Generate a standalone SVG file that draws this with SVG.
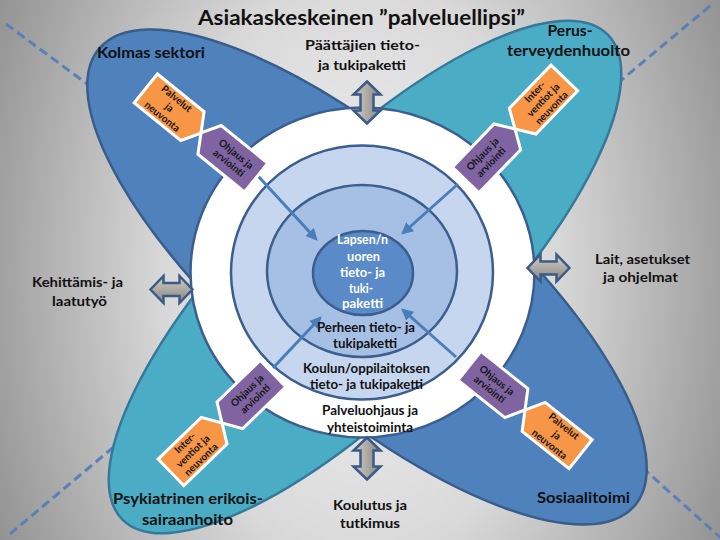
<svg xmlns="http://www.w3.org/2000/svg" width="720" height="540" viewBox="0 0 720 540">
<defs>
<radialGradient id="bg" cx="360" cy="270" r="430" gradientUnits="userSpaceOnUse" gradientTransform="translate(360 270) scale(1 1.5) translate(-360 -270)">
<stop offset="0" stop-color="#f2f2f2"/>
<stop offset="0.45" stop-color="#d9d9d9"/>
<stop offset="1" stop-color="#8a8a8a"/>
</radialGradient>
<linearGradient id="dg" x1="0" y1="0" x2="1" y2="0">
<stop offset="0" stop-color="#d6cfc2"/>
<stop offset="1" stop-color="#858585"/>
</linearGradient>
<path id="dbl" d="M0,-21 L13.5,-8 L6.5,-8 L6.5,8 L13.5,8 L0,21 L-13.5,8 L-6.5,8 L-6.5,-8 L-13.5,-8 Z"/>
<path id="penR" d="M-35.5,-18.5 L24.5,-18.5 L35.5,0 L24.5,18.5 L-35.5,18.5 Z"/>
<path id="penL" d="M35.5,-18.5 L-24.5,-18.5 L-35.5,0 L-24.5,18.5 L35.5,18.5 Z"/>
<marker id="ah" viewBox="0 0 10 10" refX="8" refY="5" markerWidth="4" markerHeight="4" orient="auto" markerUnits="strokeWidth">
<path d="M0,0 L10,5 L0,10 Z" fill="#4a7ebb"/>
</marker>
<style>
.lbl{font-family:Lato,'Liberation Sans',sans-serif;font-weight:700;fill:#111;text-anchor:middle}
.ctr{font-family:Lato,'Liberation Sans',sans-serif;font-weight:700;font-size:13px;text-anchor:middle}
.bx{font-family:Lato,'Liberation Sans',sans-serif;font-weight:700;font-size:10px;fill:#151515;text-anchor:middle}
.org{fill:#f79646;stroke:#fff;stroke-width:3}
.pur{fill:#8064a2;stroke:#fff;stroke-width:3}
.ring{stroke:#3b5e8e;stroke-width:2.5}
.dash{stroke:#5a80b6;stroke-width:3;stroke-dasharray:9 5;fill:none}
.dblarrow{fill:url(#dg);stroke:#3a5a87;stroke-width:2.5;stroke-linejoin:miter}
.conn{stroke:#4a7ebb;stroke-width:3;fill:none;marker-end:url(#ah)}
</style>
</defs>

<rect width="720" height="540" fill="url(#bg)"/>

<g id="dashed-lines">
<line class="dash" x1="6" y1="24" x2="98" y2="92"/>
<line class="dash" x1="710" y1="6" x2="612" y2="88"/>
<line class="dash" x1="10" y1="534" x2="122" y2="440"/>
<line class="dash" x1="722" y1="539" x2="636" y2="462"/>
</g>

<g id="lobe-blue">
<ellipse cx="367" cy="277" rx="352" ry="125" transform="rotate(40.5 367 277)" fill="#4f81bd" stroke="#385d8a" stroke-width="2.5"/>
</g>
<g id="lobe-teal">
<ellipse cx="365" cy="277" rx="343" ry="117" transform="rotate(-45 365 277)" fill="#4bacc6" stroke="#35789a" stroke-width="2.5"/>
</g>

<g id="rings">
<ellipse class="ring" cx="362.5" cy="272.5" rx="172" ry="165" fill="#ffffff"/>
<ellipse class="ring" cx="362" cy="272.5" rx="131" ry="127" fill="#c6d6ee"/>
<ellipse class="ring" cx="362" cy="271" rx="95" ry="86" fill="#a6bfe5"/>
<ellipse class="ring" cx="363" cy="273" rx="50" ry="42" fill="#5a8bc8"/>
</g>

<g id="connectors">
<line class="conn" x1="258" y1="176" x2="316" y2="239"/>
<line class="conn" x1="458" y1="184" x2="403" y2="233"/>
<line class="conn" x1="273" y1="368" x2="320" y2="318"/>
<line class="conn" x1="456" y1="357" x2="403" y2="310"/>
<use href="#dbl" class="dblarrow" transform="translate(367 102.5)"/>
<use href="#dbl" class="dblarrow" transform="translate(367 458.5)"/>
<use href="#dbl" class="dblarrow" transform="translate(171.5 289.5) rotate(90)"/>
<use href="#dbl" class="dblarrow" transform="translate(548.5 268) rotate(90)"/>
</g>

<g id="tl-orange" transform="translate(173.4 110.7) rotate(39)">
<use href="#penR" class="org"/>
<text class="bx" x="-5" y="-8">Palvelut</text>
<text class="bx" x="-5" y="3.5">ja</text>
<text class="bx" x="-5" y="15">neuvonta</text>
</g>
<g id="tl-purple" transform="translate(228.6 155.3) rotate(39)">
<use href="#penL" class="pur"/>
<text class="bx" x="5" y="-2.3">Ohjaus ja</text>
<text class="bx" x="5" y="9.2">arviointi</text>
</g>

<g id="tr-orange" transform="translate(539.7 103.5) rotate(-46)">
<use href="#penL" class="org"/>
<text class="bx" x="5" y="-8">Inter-</text>
<text class="bx" x="5" y="3.5">ventiot ja</text>
<text class="bx" x="5" y="15">neuvonta</text>
</g>
<g id="tr-purple" transform="translate(490.3 154.5) rotate(-46)">
<use href="#penR" class="pur"/>
<text class="bx" x="-5" y="-2.3">Ohjaus ja</text>
<text class="bx" x="-5" y="9.2">arviointi</text>
</g>

<g id="bl-orange" transform="translate(196.5 447.7) rotate(-44)">
<use href="#penR" class="org"/>
<text class="bx" x="-5" y="-8">Inter-</text>
<text class="bx" x="-5" y="3.5">ventiot ja</text>
<text class="bx" x="-5" y="15">neuvonta</text>
</g>
<g id="bl-purple" transform="translate(247.5 398.3) rotate(-44)">
<use href="#penL" class="pur"/>
<text class="bx" x="5" y="-2.3">Ohjaus ja</text>
<text class="bx" x="5" y="9.2">arviointi</text>
</g>

<g id="br-orange" transform="translate(552.8 432.1) rotate(38.5)">
<use href="#penL" class="org"/>
<text class="bx" x="5" y="-8">Palvelut</text>
<text class="bx" x="5" y="3.5">ja</text>
<text class="bx" x="5" y="15">neuvonta</text>
</g>
<g id="br-purple" transform="translate(497.2 387.9) rotate(38.5)">
<use href="#penR" class="pur"/>
<text class="bx" x="-5" y="-2.3">Ohjaus ja</text>
<text class="bx" x="-5" y="9.2">arviointi</text>
</g>

<g id="title">
<text class="lbl" x="361.5" y="25" font-size="21" textLength="327" lengthAdjust="spacingAndGlyphs">Asiakaskeskeinen ”palveluellipsi”</text>
</g>
<g id="kolmas-sektori">
<text class="lbl" x="151" y="58" font-size="15" textLength="108" lengthAdjust="spacingAndGlyphs">Kolmas sektori</text>
</g>
<g id="paattajien">
<text class="lbl" x="362.5" y="50" font-size="14" textLength="115" lengthAdjust="spacingAndGlyphs">Päättäjien tieto-</text>
<text class="lbl" x="362" y="70" font-size="14" textLength="88" lengthAdjust="spacingAndGlyphs">ja tukipaketti</text>
</g>
<g id="perusterveydenhuolto">
<text class="lbl" x="570" y="36" font-size="15" textLength="45" lengthAdjust="spacingAndGlyphs">Perus-</text>
<text class="lbl" x="568.5" y="56" font-size="15" textLength="123" lengthAdjust="spacingAndGlyphs">terveydenhuolto</text>
</g>
<g id="kehittamis">
<text class="lbl" x="77.5" y="287" font-size="14" textLength="91" lengthAdjust="spacingAndGlyphs">Kehittämis- ja</text>
<text class="lbl" x="79.5" y="306" font-size="14" textLength="55" lengthAdjust="spacingAndGlyphs">laatutyö</text>
</g>
<g id="lait">
<text class="lbl" x="642.5" y="264" font-size="14" textLength="95" lengthAdjust="spacingAndGlyphs">Lait, asetukset</text>
<text class="lbl" x="640.5" y="282" font-size="14" textLength="75" lengthAdjust="spacingAndGlyphs">ja ohjelmat</text>
</g>
<g id="psykiatrinen">
<text class="lbl" x="188" y="504" font-size="15" textLength="150" lengthAdjust="spacingAndGlyphs">Psykiatrinen erikois-</text>
<text class="lbl" x="187.5" y="525" font-size="15" textLength="91" lengthAdjust="spacingAndGlyphs">sairaanhoito</text>
</g>
<g id="koulutus">
<text class="lbl" x="370" y="510" font-size="14" textLength="74" lengthAdjust="spacingAndGlyphs">Koulutus ja</text>
<text class="lbl" x="370" y="528" font-size="14" textLength="60" lengthAdjust="spacingAndGlyphs">tutkimus</text>
</g>
<g id="sosiaalitoimi">
<text class="lbl" x="583.5" y="503" font-size="15" textLength="93" lengthAdjust="spacingAndGlyphs">Sosiaalitoimi</text>
</g>
<g id="lapsen">
<text class="ctr" fill="#ffffff" x="362.5" y="244" textLength="51" lengthAdjust="spacingAndGlyphs">Lapsen/n</text>
<text class="ctr" fill="#ffffff" x="363.5" y="260.5" textLength="33" lengthAdjust="spacingAndGlyphs">uoren</text>
<text class="ctr" fill="#ffffff" x="362.5" y="277" textLength="45" lengthAdjust="spacingAndGlyphs">tieto- ja</text>
<text class="ctr" fill="#ffffff" x="361" y="292.5" textLength="24" lengthAdjust="spacingAndGlyphs">tuki-</text>
<text class="ctr" fill="#ffffff" x="362.5" y="308" textLength="41" lengthAdjust="spacingAndGlyphs">paketti</text>
</g>
<g id="perheen">
<text class="ctr" fill="#111" x="366" y="332" textLength="98" lengthAdjust="spacingAndGlyphs">Perheen tieto- ja</text>
<text class="ctr" fill="#111" x="365" y="348" textLength="64" lengthAdjust="spacingAndGlyphs">tukipaketti</text>
</g>
<g id="koulun">
<text class="ctr" fill="#111" x="366.5" y="372.5" textLength="127" lengthAdjust="spacingAndGlyphs">Koulun/oppilaitoksen</text>
<text class="ctr" fill="#111" x="366.5" y="389" textLength="113" lengthAdjust="spacingAndGlyphs">tieto- ja tukipaketti</text>
</g>
<g id="palveluohjaus">
<text class="ctr" fill="#111" x="370" y="415" textLength="96" lengthAdjust="spacingAndGlyphs">Palveluohjaus ja</text>
<text class="ctr" fill="#111" x="370" y="431.5" textLength="86" lengthAdjust="spacingAndGlyphs">yhteistoiminta</text>
</g>
</svg>
